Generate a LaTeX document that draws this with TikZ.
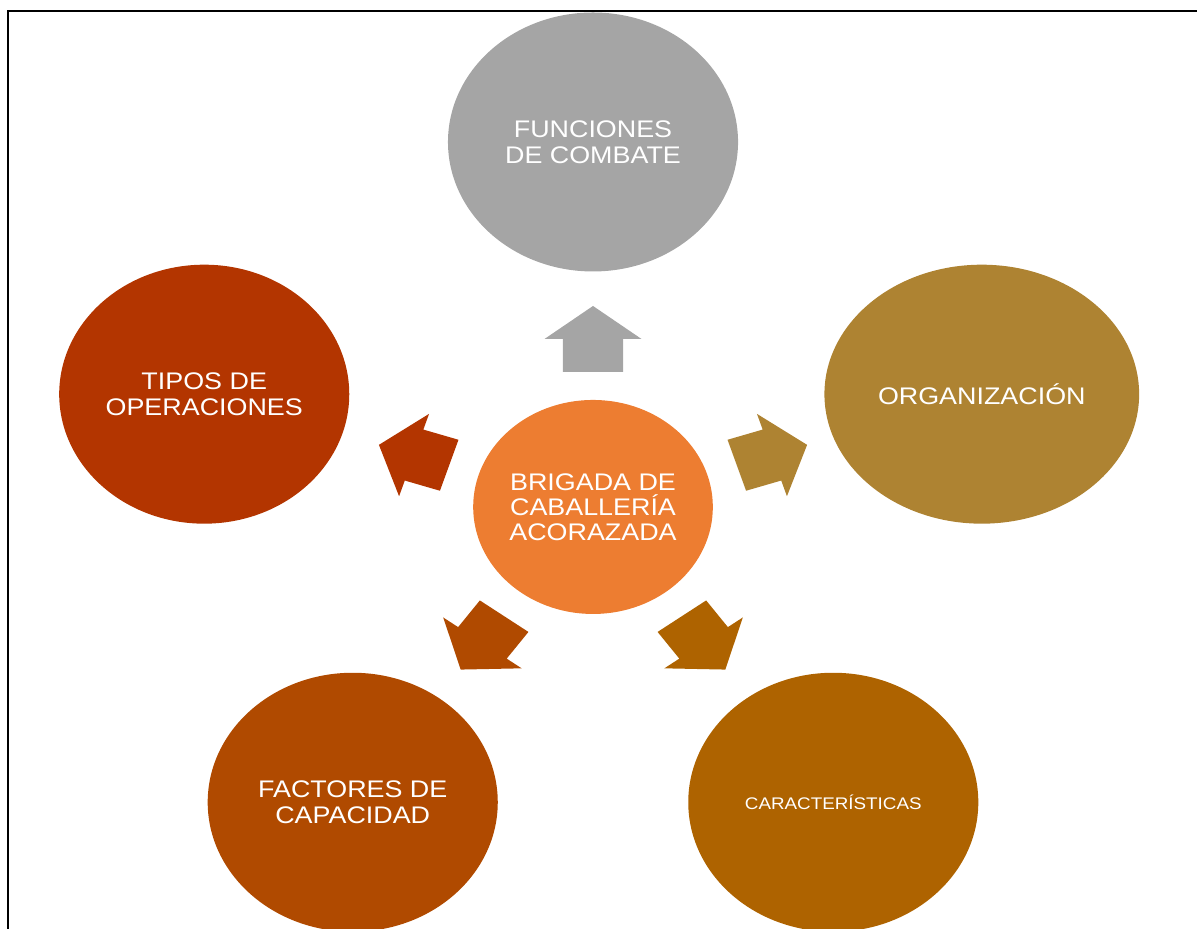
\documentclass[tikz,border=0pt]{standalone}
\usepackage{fontspec}
\newfontfamily\diagfont{Liberation Sans}
\usetikzlibrary{shapes.geometric}
\definecolor{gris}{HTML}{A5A5A5}
\definecolor{naranja}{HTML}{ED7D31}
\definecolor{rojizo}{HTML}{B33500}
\definecolor{ocre}{HTML}{AE8332}
\definecolor{tostado}{HTML}{B04A00}
\definecolor{marron}{HTML}{AE6300}
\tikzset{
    burbuja/.style={ellipse, minimum size=129.5pt, inner sep=0pt, text=white, align=center,
        transform shape, font=\diagfont\fontsize{12}{13}\selectfont},
}
\begin{document}
\begin{tikzpicture}[x=0.5pt,y=0.5pt,xscale=1.12]

    \useasboundingbox (-529.5,-422) rectangle (539.3,507);
    \draw[line width=1pt] (-522,-440) |- (545,496);

    \node[burbuja, fill=naranja, minimum size=107pt, font=\diagfont\fontsize{12}{12.5}\selectfont] (brigada) at (0,0) {BRIGADA DE\\CABALLERÍA\\ACORAZADA};

    \node[burbuja, fill=gris] (combate) at (90:365) {FUNCIONES\\DE COMBATE};
    \node[burbuja, fill=ocre, minimum width=140.5pt] (organizacion) at (18:365) {ORGANIZACIÓN};
    \node[burbuja, fill=marron, font=\diagfont\fontsize{8.4}{9}\selectfont] (caracteristicas) at (-54:365) {CARACTERÍSTICAS};
    \node[burbuja, fill=tostado] (capacidad) at (234:365) {FACTORES DE\\CAPACIDAD};
    \node[burbuja, fill=rojizo] (operaciones) at (162:365) {TIPOS DE\\OPERACIONES};

    %flechas
    \foreach \a/\col in {90/gris,18/ocre,-54/marron,234/tostado,162/rojizo} {
        \fill[\col, shift={(\a:168)}, rotate=\a] (-33,-26.8) -- (0,-26.8) -- (0,-43.3) -- (33,0)
            -- (0,43.3) -- (0,26.8) -- (-33,26.8) -- cycle;
    }

\end{tikzpicture}
\end{document}
